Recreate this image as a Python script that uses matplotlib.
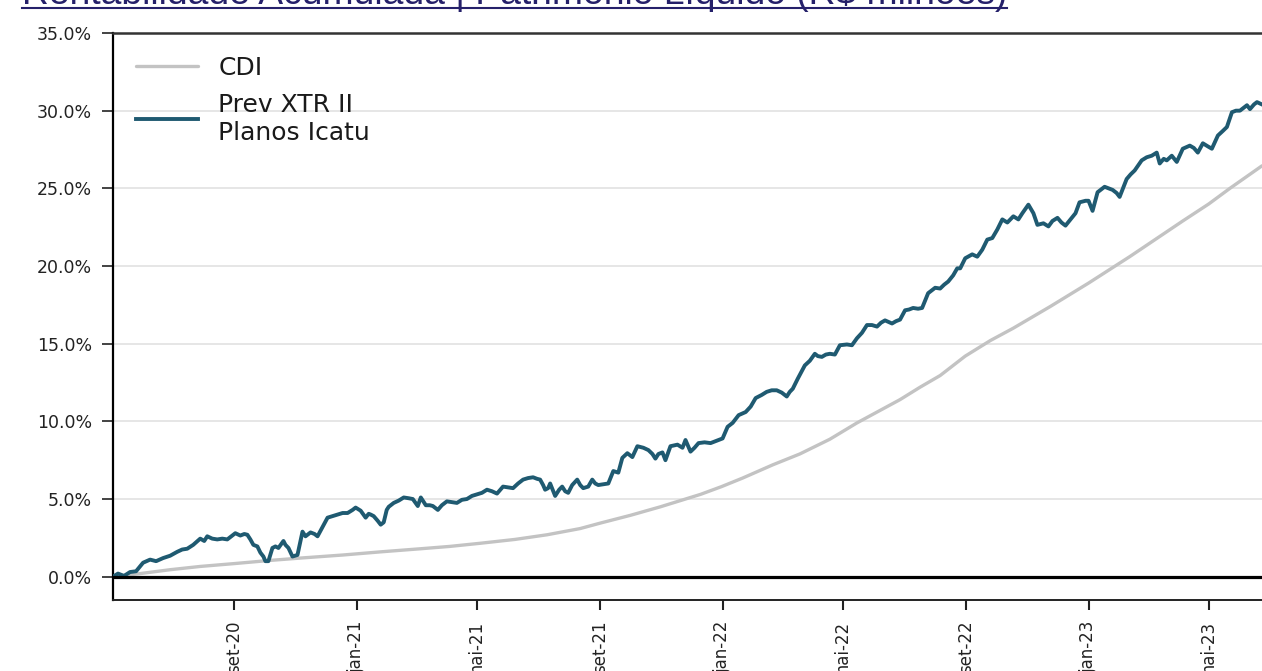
import matplotlib
matplotlib.use("Agg")
import matplotlib.pyplot as plt
from matplotlib.lines import Line2D
import pandas as pd

title_text = "Rentabilidade Acumulada | Patrimônio Líquido (R$ milhões)"
series_labels = ["CDI", "Prev XTR II\nPlanos Icatu"]

fund_dates = [
    "2020-05-03", "2020-05-08", "2020-05-14", "2020-05-20", "2020-05-26", "2020-06-02", "2020-06-09", "2020-06-15",
    "2020-06-22", "2020-06-29", "2020-07-06", "2020-07-11", "2020-07-16", "2020-07-22", "2020-07-29", "2020-08-02",
    "2020-08-05", "2020-08-10", "2020-08-15", "2020-08-20", "2020-08-25", "2020-08-29", "2020-09-02", "2020-09-07",
    "2020-09-11", "2020-09-14", "2020-09-17", "2020-09-20", "2020-09-24", "2020-09-27", "2020-09-30", "2020-10-02",
    "2020-10-05", "2020-10-09", "2020-10-12", "2020-10-15", "2020-10-20", "2020-10-22", "2020-10-25", "2020-10-29",
    "2020-11-03", "2020-11-08", "2020-11-11", "2020-11-16", "2020-11-20", "2020-11-23", "2020-11-28", "2020-12-03",
    "2020-12-08", "2020-12-13", "2020-12-18", "2020-12-23", "2020-12-28", "2020-12-31", "2021-01-05", "2021-01-10",
    "2021-01-13", "2021-01-15", "2021-01-18", "2021-01-22", "2021-01-25", "2021-01-28", "2021-01-31", "2021-02-02",
    "2021-02-07", "2021-02-12", "2021-02-17", "2021-02-22", "2021-02-26", "2021-03-03", "2021-03-06", "2021-03-11",
    "2021-03-15", "2021-03-18", "2021-03-23", "2021-03-27", "2021-04-01", "2021-04-06", "2021-04-11", "2021-04-16",
    "2021-04-21", "2021-04-26", "2021-05-01", "2021-05-06", "2021-05-11", "2021-05-16", "2021-05-21", "2021-05-27",
    "2021-06-01", "2021-06-06", "2021-06-11", "2021-06-16", "2021-06-21", "2021-06-26", "2021-06-30", "2021-07-03",
    "2021-07-06", "2021-07-08", "2021-07-11", "2021-07-13", "2021-07-18", "2021-07-22", "2021-07-25", "2021-07-28",
    "2021-07-31", "2021-08-04", "2021-08-09", "2021-08-12", "2021-08-15", "2021-08-20", "2021-08-24", "2021-08-27",
    "2021-08-30", "2021-09-04", "2021-09-09", "2021-09-14", "2021-09-19", "2021-09-23", "2021-09-28", "2021-10-03",
    "2021-10-08", "2021-10-14", "2021-10-19", "2021-10-23", "2021-10-26", "2021-10-29", "2021-11-02", "2021-11-05",
    "2021-11-10", "2021-11-17", "2021-11-22", "2021-11-25", "2021-11-30", "2021-12-04", "2021-12-08", "2021-12-14",
    "2021-12-20", "2021-12-26", "2022-01-01", "2022-01-06", "2022-01-11", "2022-01-17", "2022-01-24", "2022-01-29",
    "2022-02-03", "2022-02-09", "2022-02-14", "2022-02-19", "2022-02-24", "2022-03-01", "2022-03-06", "2022-03-09",
    "2022-03-12", "2022-03-17", "2022-03-24", "2022-03-29", "2022-04-03", "2022-04-06", "2022-04-10", "2022-04-14",
    "2022-04-18", "2022-04-23", "2022-04-28", "2022-05-05", "2022-05-10", "2022-05-15", "2022-05-20", "2022-05-25",
    "2022-05-30", "2022-06-04", "2022-06-08", "2022-06-12", "2022-06-19", "2022-06-23", "2022-06-27", "2022-07-02",
    "2022-07-06", "2022-07-10", "2022-07-15", "2022-07-19", "2022-07-25", "2022-08-01", "2022-08-06", "2022-08-10",
    "2022-08-14", "2022-08-19", "2022-08-23", "2022-08-26", "2022-08-31", "2022-09-07", "2022-09-12", "2022-09-17",
    "2022-09-22", "2022-09-27", "2022-10-02", "2022-10-07", "2022-10-12", "2022-10-18", "2022-10-23", "2022-10-27",
    "2022-11-02", "2022-11-07", "2022-11-11", "2022-11-17", "2022-11-22", "2022-11-26", "2022-12-01", "2022-12-05",
    "2022-12-09", "2022-12-14", "2022-12-19", "2022-12-23", "2022-12-29", "2023-01-01", "2023-01-05", "2023-01-10",
    "2023-01-17", "2023-01-21", "2023-01-25", "2023-01-29", "2023-02-01", "2023-02-08", "2023-02-12", "2023-02-16",
    "2023-02-23", "2023-02-28", "2023-03-05", "2023-03-10", "2023-03-13", "2023-03-17", "2023-03-20", "2023-03-25",
    "2023-03-30", "2023-04-05", "2023-04-12", "2023-04-16", "2023-04-20", "2023-04-25", "2023-04-30", "2023-05-04",
    "2023-05-10", "2023-05-15", "2023-05-19", "2023-05-24", "2023-05-28", "2023-06-01", "2023-06-05", "2023-06-08",
    "2023-06-11", "2023-06-15", "2023-06-18", "2023-06-23",
]
fund_values = [
    0.0, 0.2, 0.05, 0.3, 0.35, 0.9, 1.1, 1.0,
    1.2, 1.35, 1.6, 1.75, 1.8, 2.05, 2.45, 2.3,
    2.6, 2.45, 2.4, 2.45, 2.4, 2.6, 2.8, 2.65,
    2.75, 2.7, 2.4, 2.05, 1.95, 1.55, 1.3, 1.0,
    1.0, 1.85, 1.95, 1.85, 2.3, 2.05, 1.85, 1.3,
    1.4, 2.9, 2.6, 2.85, 2.75, 2.6, 3.2, 3.8,
    3.9, 4.0, 4.1, 4.1, 4.3, 4.45, 4.25, 3.8,
    4.05, 4.0, 3.9, 3.6, 3.35, 3.5, 4.3, 4.5,
    4.75, 4.9, 5.1, 5.05, 5.0, 4.55, 5.1, 4.6,
    4.6, 4.55, 4.3, 4.6, 4.85, 4.8, 4.75, 4.95,
    5.0, 5.2, 5.3, 5.4, 5.6, 5.5, 5.35, 5.8,
    5.75, 5.7, 6.0, 6.25, 6.35, 6.4, 6.3, 6.25,
    5.9, 5.6, 5.7, 6.0, 5.2, 5.6, 5.8, 5.5,
    5.4, 5.9, 6.25, 5.9, 5.7, 5.8, 6.25, 6.0,
    5.9, 5.95, 6.0, 6.8, 6.7, 7.65, 7.95, 7.7,
    8.4, 8.3, 8.15, 7.9, 7.6, 7.9, 8.0, 7.5,
    8.4, 8.5, 8.3, 8.8, 8.05, 8.3, 8.6, 8.65,
    8.6, 8.75, 8.9, 9.65, 9.9, 10.4, 10.6, 10.95,
    11.5, 11.7, 11.9, 12.0, 12.0, 11.85, 11.6, 11.9,
    12.1, 12.75, 13.6, 13.9, 14.35, 14.2, 14.15, 14.3,
    14.35, 14.3, 14.9, 14.95, 14.9, 15.35, 15.7, 16.2,
    16.2, 16.1, 16.35, 16.5, 16.3, 16.45, 16.55, 17.15,
    17.2, 17.3, 17.25, 17.3, 18.25, 18.6, 18.55, 18.8,
    19.0, 19.4, 19.85, 19.85, 20.5, 20.75, 20.6, 21.05,
    21.7, 21.8, 22.35, 23.0, 22.8, 23.2, 23.0, 23.4,
    23.95, 23.4, 22.65, 22.75, 22.55, 22.9, 23.1, 22.8,
    22.6, 23.0, 23.4, 24.1, 24.2, 24.2, 23.55, 24.75,
    25.1, 25.0, 24.9, 24.7, 24.45, 25.6, 25.9, 26.15,
    26.8, 27.0, 27.1, 27.3, 26.6, 26.9, 26.8, 27.1,
    26.7, 27.55, 27.75, 27.6, 27.3, 27.9, 27.7, 27.55,
    28.4, 28.7, 28.95, 29.9, 30.0, 30.0, 30.2, 30.35,
    30.1, 30.4, 30.55, 30.4,
]

cdi_dates = [
    "2020-05-03", "2020-05-30", "2020-06-29", "2020-07-29", "2020-09-02", "2020-10-07", "2020-11-06", "2020-12-19",
    "2021-01-25", "2021-03-06", "2021-04-04", "2021-05-04", "2021-06-08", "2021-07-10", "2021-08-12", "2021-09-01",
    "2021-10-01", "2021-10-31", "2021-12-10", "2021-12-31", "2022-01-21", "2022-02-20", "2022-03-19", "2022-04-18",
    "2022-05-15", "2022-06-27", "2022-07-17", "2022-08-06", "2022-08-31", "2022-09-25", "2022-10-18", "2022-11-24",
    "2023-01-01", "2023-02-11", "2023-04-05", "2023-05-01", "2023-05-22", "2023-06-23",
]
cdi_values = [
    0.0, 0.2, 0.45, 0.66, 0.85, 1.05, 1.2, 1.4,
    1.6, 1.8, 1.95, 2.15, 2.4, 2.7, 3.1, 3.45,
    3.95, 4.5, 5.3, 5.8, 6.35, 7.2, 7.9, 8.85,
    9.9, 11.4, 12.2, 12.95, 14.2, 15.2, 16.0, 17.4,
    18.9, 20.6, 22.9, 24.0, 25.0, 26.45,
]

tick_dates = ["2020-09-01", "2021-01-01", "2021-05-01", "2021-09-01", "2022-01-01",
              "2022-05-01", "2022-09-01", "2023-01-01", "2023-05-01"]
tick_labels = ["set-20", "jan-21", "mai-21", "set-21", "jan-22", "mai-22", "set-22", "jan-23", "mai-23"]
y_ticks = [0, 5, 10, 15, 20, 25, 30, 35]

W, H = 1262, 671
fig = plt.figure(figsize=(W / 100, H / 100), dpi=100)
fig.patch.set_facecolor("white")
ax = fig.add_axes([113 / W, 1 - 600 / H, 1 - 113 / W, (600 - 33) / H])

fd = pd.to_datetime(fund_dates)
cd = pd.to_datetime(cdi_dates)

ax.plot(cd, cdi_values, color="#c3c3c3", lw=2.4, solid_capstyle="round", zorder=3, label=series_labels[0])
ax.plot(fd, fund_values, color="#1f5a71", lw=2.8, solid_joinstyle="round", zorder=4, label=series_labels[1])
ax.axhline(0, color="black", lw=2.3, zorder=5)

ax.set_xlim(fd[0], fd[-1])
ax.set_ylim(-1.5, 35)
ax.set_yticks(y_ticks)
ax.set_yticklabels([f"{v:.1f}%" for v in y_ticks])
ax.yaxis.grid(True, color="#e4e4e4", lw=1.3)
ax.set_axisbelow(True)

ax.set_xticks(pd.to_datetime(tick_dates))
ax.set_xticklabels(tick_labels, rotation=90, va="top", ha="center")

ax.spines["right"].set_visible(False)
ax.spines["left"].set_color("black")
ax.spines["left"].set_linewidth(1.6)
ax.spines["bottom"].set_color("#222222")
ax.spines["bottom"].set_linewidth(1.4)
ax.spines["top"].set_color("#333333")
ax.spines["top"].set_linewidth(1.8)

ax.tick_params(axis="y", length=8, width=1.2, pad=7, labelsize=12.5, colors="#222222")
ax.tick_params(axis="x", length=7, width=1.5, pad=8, labelsize=12, colors="#222222")

leg = ax.legend(loc="upper left", bbox_to_anchor=(0.02, 0.959), frameon=False, fontsize=18,
                handlelength=2.5, handletextpad=0.8, labelspacing=0.5, borderpad=0, borderaxespad=0)
for t in leg.get_texts():
    t.set_color("#1a1a1a")

title = fig.text(22 / W, 1 - 4 / H, title_text, fontsize=26.8, family="Liberation Sans",
                 color="#25206a", ha="left", va="baseline")
fig.canvas.draw()
bb = title.get_window_extent(renderer=fig.canvas.get_renderer())
fig.add_artist(Line2D([bb.x0 / W, bb.x1 / W], [1 - 8.3 / H, 1 - 8.3 / H],
                      transform=fig.transFigure, color="#25206a", lw=1.5))

fig.savefig("out.png", dpi=100, facecolor="white")
